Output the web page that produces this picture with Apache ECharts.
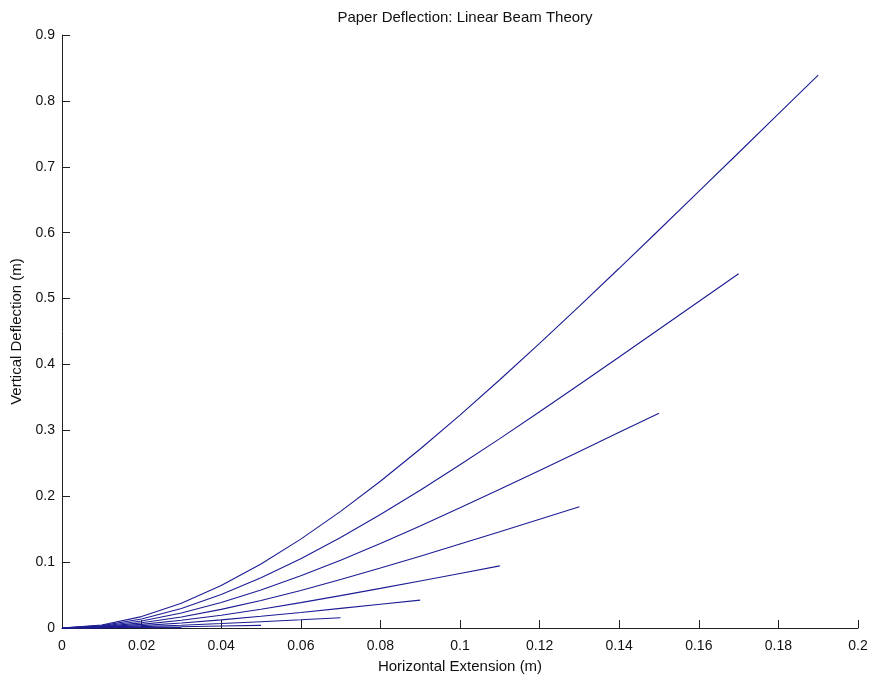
<!DOCTYPE html>
<html>
<head>
<meta charset="utf-8">
<script src="https://cdn.jsdelivr.net/npm/echarts@6/dist/echarts.min.js"></script>
<style>
html,body{margin:0;padding:0;background:#fff;}
#chart{width:874px;height:680px;}
</style>
</head>
<body>
<div id="chart"></div>
<script>
// Horizontal positions shared by all curves (m)
var xs = [0, 0.01, 0.02, 0.03, 0.04, 0.05, 0.06, 0.07, 0.08, 0.09, 0.10,
          0.11, 0.12, 0.13, 0.14, 0.15, 0.16, 0.17, 0.18, 0.19];

// Vertical deflection for each paper length (m)
var yL19 = [0, 0.00449, 0.01732, 0.03760, 0.06448, 0.09716, 0.13489, 0.17697, 0.22277, 0.27169,
            0.32319, 0.37678, 0.43202, 0.48852, 0.54596, 0.60405, 0.66255, 0.72129, 0.78013, 0.83901];
var yL17 = [0, 0.00358, 0.01375, 0.02972, 0.05075, 0.07613, 0.10522, 0.13744, 0.17223, 0.20911,
            0.24765, 0.28745, 0.32818, 0.36957, 0.41136, 0.45340, 0.49554, 0.53771];
var yL15 = [0, 0.00277, 0.01059, 0.02277, 0.03866, 0.05767, 0.07927, 0.10295, 0.12828, 0.15488,
            0.18241, 0.21059, 0.23919, 0.26802, 0.29696, 0.32592];
var yL13 = [0, 0.00207, 0.00785, 0.01675, 0.02822, 0.04179, 0.05702, 0.07350, 0.09092, 0.10899,
            0.12747, 0.14619, 0.16502, 0.18388];
var yL11 = [0, 0.00147, 0.00551, 0.01165, 0.01943, 0.02849, 0.03847, 0.04911, 0.06016, 0.07144,
            0.08284, 0.09426];
var yL09 = [0, 0.00097, 0.00359, 0.00748, 0.01229, 0.01776, 0.02364, 0.02976, 0.03598, 0.04224];
var yL07 = [0, 0.00057, 0.00208, 0.00423, 0.00680, 0.00960, 0.01252, 0.01546];
var yL05 = [0, 0.00028, 0.00098, 0.00191, 0.00295, 0.00402];
var yL03 = [0, 0.00009, 0.00029, 0.00052];
var yL01 = [0, 0.00001];

var curves = [yL19, yL17, yL15, yL13, yL11, yL09, yL07, yL05, yL03, yL01];

var xTickLabels = ['0', '0.02', '0.04', '0.06', '0.08', '0.1', '0.12', '0.14', '0.16', '0.18', '0.2'];
var yTickLabels = ['0', '0.1', '0.2', '0.3', '0.4', '0.5', '0.6', '0.7', '0.8', '0.9'];

var lineColor = '#1c1c94';
var axisColor = '#222222';
var font = 'Liberation Sans, Arial, Helvetica, sans-serif';

var series = curves.map(function (ys) {
  return {
    type: 'line',
    data: ys.map(function (y, i) { return [xs[i], y]; }),
    showSymbol: false,
    smooth: false,
    lineStyle: { color: lineColor, width: 1.1 },
    emphasis: { disabled: true },
    animation: false
  };
});

var chart = echarts.init(document.getElementById('chart'), null, { renderer: 'canvas' });
chart.setOption({
  backgroundColor: '#ffffff',
  animation: false,
  title: {
    text: 'Paper Deflection: Linear Beam Theory',
    left: 460, top: 5, textAlign: 'center',
    textStyle: { fontFamily: font, fontSize: 15, fontWeight: 'normal', color: '#111' }
  },
  grid: { left: 62, right: 16, top: 35, bottom: 52, containLabel: false, outerBoundsMode: 'none' },
  xAxis: {
    type: 'value', min: 0, max: 0.2, interval: 0.02,
    name: 'Horizontal Extension (m)', nameLocation: 'middle', nameGap: 31,
    nameTextStyle: { fontFamily: font, fontSize: 15, color: '#111' },
    axisLine: { show: true, lineStyle: { color: axisColor, width: 1 } },
    axisTick: { show: true, inside: true, length: 8, lineStyle: { color: axisColor } },
    axisLabel: {
      fontFamily: font, fontSize: 14, color: '#111', margin: 11,
      formatter: function (v) { return xTickLabels[Math.round(v / 0.02)]; }
    },
    splitLine: { show: false }
  },
  yAxis: {
    type: 'value', min: 0, max: 0.9, interval: 0.1,
    name: 'Vertical Deflection (m)', nameLocation: 'middle', nameGap: 36,
    nameTextStyle: { fontFamily: font, fontSize: 15, color: '#111' },
    axisLine: { show: true, lineStyle: { color: axisColor, width: 1 } },
    axisTick: { show: true, inside: true, length: 8, lineStyle: { color: axisColor } },
    axisLabel: {
      fontFamily: font, fontSize: 14, color: '#111', margin: 7,
      formatter: function (v) { return yTickLabels[Math.round(v / 0.1)]; }
    },
    splitLine: { show: false }
  },
  series: series
});
</script>
</body>
</html>
